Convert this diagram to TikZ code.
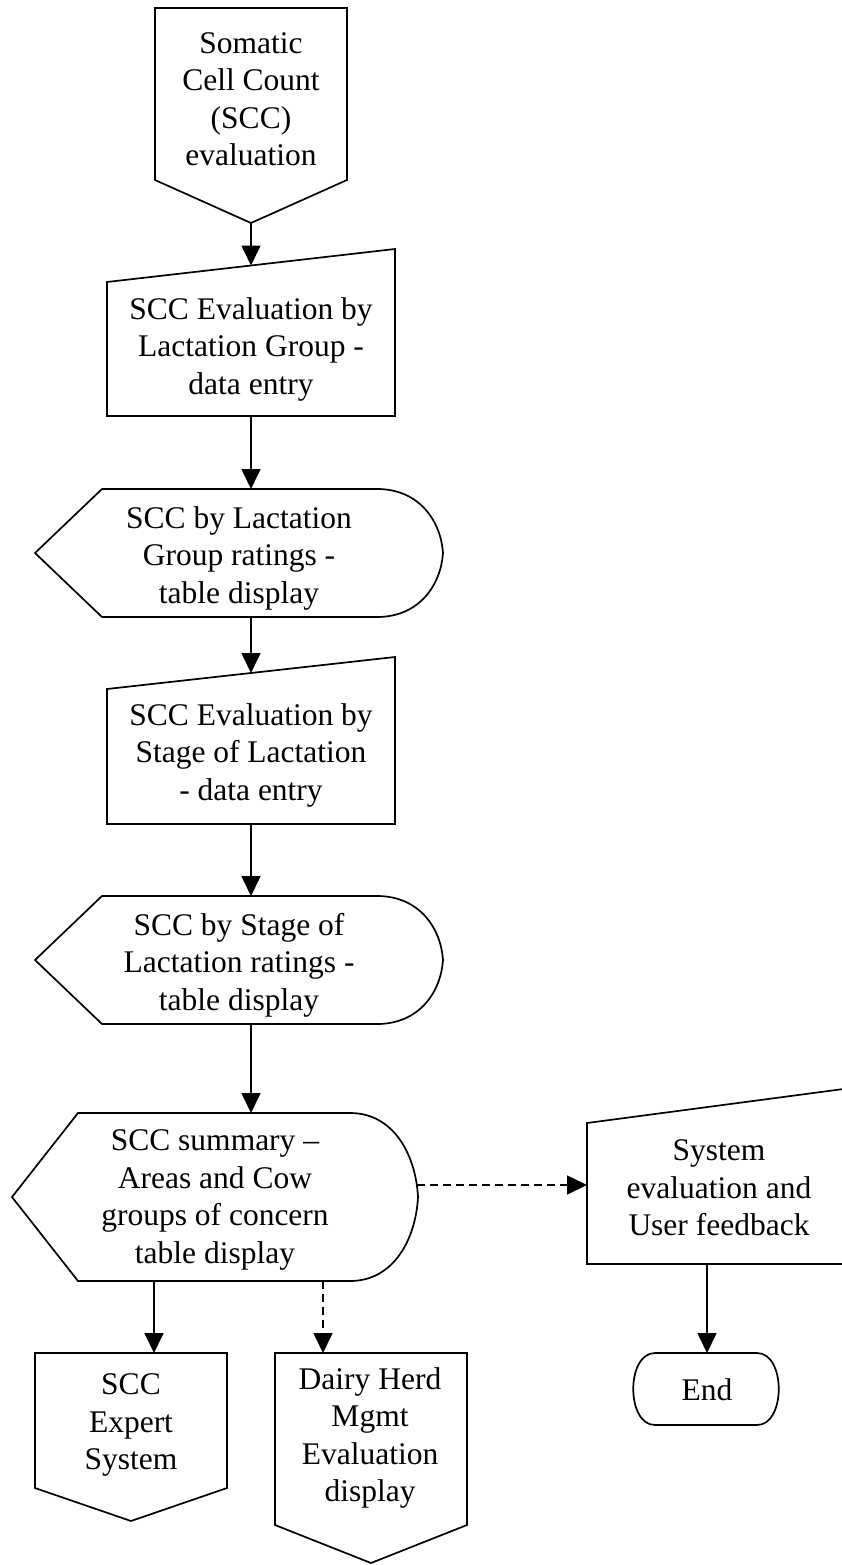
\documentclass[tikz,border=0pt]{standalone}
\usepackage{fontspec}
\setmainfont{Liberation Serif}
\usetikzlibrary{arrows.meta}
\tikzset{
  shp/.style={draw=black, line width=1.7pt, line join=miter},
  txt/.style={align=center, inner sep=0pt, font=\fontsize{31.5}{37.5}\selectfont},
  arr/.style={line width=1.7pt, -{Triangle[length=20pt,width=19pt]}},
  darr/.style={arr, dash pattern=on 8pt off 5pt},
}
\begin{document}
\begin{tikzpicture}[x=1pt,y=-1pt]
\useasboundingbox (0,0) rectangle (842,1565);
\fill[white] (0,0) rectangle (842,1565);

% off-page connector (top)
\draw[shp] (155,8) -- (347,8) -- (347,180) -- (251,223) -- (155,180) -- cycle;
\node[txt] (start) at (251,99) {Somatic\\Cell Count\\(SCC)\\evaluation};
\coordinate (start-s) at (251,223);

% manual input 1
\draw[shp] (107,282) -- (395,249) -- (395,416) -- (107,416) -- cycle;
\node[txt] (m1) at (251,349) {SCC Evaluation by\\Lactation Group -\\data entry};
\coordinate (m1-n) at (251,265.5);
\coordinate (m1-s) at (251,416);

% display 1
\draw[shp] (35,553) -- (102,489) -- (377,489) .. controls (420,489) and (441,522) .. (443,553)
  .. controls (441,584) and (420,617) .. (377,617) -- (102,617) -- cycle;
\node[txt] (d1) at (239,558) {SCC by Lactation\\Group ratings -\\table display};
\coordinate (d1-n) at (251,489);
\coordinate (d1-s) at (251,617);

% manual input 2
\draw[shp] (107,689) -- (395,657) -- (395,824) -- (107,824) -- cycle;
\node[txt] (m2) at (251,755) {SCC Evaluation by\\Stage of Lactation\\- data entry};
\coordinate (m2-n) at (251,673);
\coordinate (m2-s) at (251,824);

% display 2
\draw[shp] (35,960) -- (102,896) -- (377,896) .. controls (420,896) and (441,929) .. (443,960)
  .. controls (441,991) and (420,1024) .. (377,1024) -- (102,1024) -- cycle;
\node[txt] (d2) at (239,965) {SCC by Stage of\\Lactation ratings -\\table display};
\coordinate (d2-n) at (251,896);
\coordinate (d2-s) at (251,1024);

% display 3
\draw[shp] (12,1197) -- (78,1113) -- (350,1113) .. controls (395,1113) and (416,1157) .. (418,1197)
  .. controls (416,1237) and (395,1281) .. (350,1281) -- (78,1281) -- cycle;
\node[txt] (d3) at (215,1200) {SCC summary --\\Areas and Cow\\groups of concern\\table display};
\coordinate (d3-n) at (251,1113);
\coordinate (d3-e) at (417,1185);
\coordinate (d3-s1) at (154,1281);
\coordinate (d3-s2) at (323,1281);

% system evaluation (manual input, right)
\draw[shp] (587,1123) -- (851,1088) -- (851,1264) -- (587,1264) -- cycle;
\node[txt] (sys) at (719,1188) {System\\evaluation and\\User feedback};
\coordinate (sys-w) at (587,1185);
\coordinate (sys-s) at (707,1264);

% end terminator
\draw[shp] (655,1353) -- (757,1353) .. controls (786,1353) and (786,1425) .. (757,1425)
  -- (655,1425) .. controls (626,1425) and (626,1353) .. (655,1353) -- cycle;
\node[txt] (end) at (707,1390) {End};
\coordinate (end-n) at (707,1353);

% SCC expert system (off-page)
\draw[shp] (35,1353) -- (227,1353) -- (227,1488) -- (131,1521) -- (35,1488) -- cycle;
\node[txt] (exp) at (131,1425) {SCC\\Expert\\System};
\coordinate (exp-n) at (154,1353);

% Dairy herd (off-page)
\draw[shp] (275,1353) -- (467,1353) -- (467,1525) -- (371,1563) -- (275,1525) -- cycle;
\node[txt] (dhm) at (370,1438) {Dairy Herd\\Mgmt\\Evaluation\\display};
\coordinate (dhm-n) at (323,1353);

% connectors
\draw[arr] (start-s) -- (m1-n);
\draw[arr] (m1-s) -- (d1-n);
\draw[arr] (d1-s) -- (m2-n);
\draw[arr] (m2-s) -- (d2-n);
\draw[arr] (d2-s) -- (d3-n);
\draw[darr] (d3-e) -- (sys-w);
\draw[arr] (sys-s) -- (end-n);
\draw[arr] (d3-s1) -- (exp-n);
\draw[darr] (d3-s2) -- (dhm-n);
\end{tikzpicture}
\end{document}
